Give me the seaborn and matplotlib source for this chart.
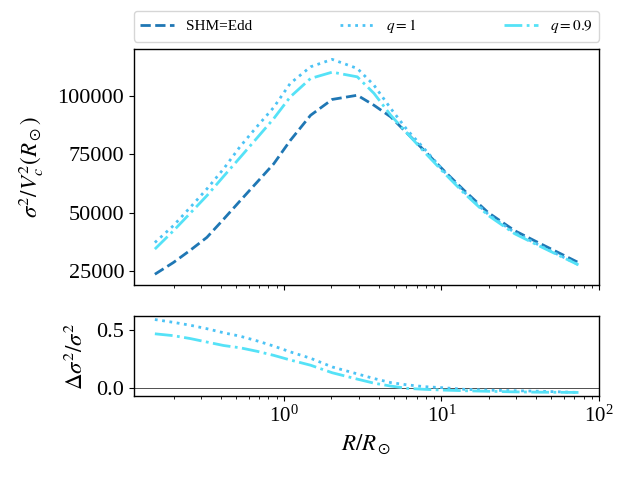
import numpy as np
import pandas as pd
import matplotlib
matplotlib.use("Agg")
import matplotlib.pyplot as plt
import seaborn as sns

# radii (in units of R_sun)
R = [0.152, 0.199, 0.255, 0.325, 0.415, 0.530, 0.677, 0.864, 1.10, 1.48, 2.03,
     2.93, 3.74, 4.78, 6.11, 7.79, 10.45, 14.0, 19.8, 29.2, 43.2, 74.3]

# sigma^2 / Vc^2 for each model
sig_shm = [23600, 28600, 33900, 39400, 47200, 55200, 63100, 71000, 81000, 91800, 98600,
           100400, 96100, 91100, 83900, 76700, 67900, 59500, 50100, 42300, 36500, 28600]
sig_q1 = [37200, 44400, 52300, 60200, 68800, 78500, 87000, 95200, 105500, 112600, 115800,
          111900, 104700, 94700, 85300, 77500, 67600, 58800, 49400, 41500, 35600, 27700]
sig_q09 = [34400, 42200, 49800, 57300, 65600, 73800, 82100, 90400, 99700, 107600, 110300,
           108300, 101200, 91800, 83900, 76100, 67000, 58300, 48900, 41000, 35300, 27600]

# relative difference to SHM
d_q1 = [0.594, 0.570, 0.545, 0.515, 0.480, 0.450, 0.410, 0.365, 0.315, 0.260, 0.185,
        0.125, 0.085, 0.050, 0.030, 0.015, 0.005, -0.008, -0.015, -0.020, -0.025, -0.035]
d_q09 = [0.471, 0.455, 0.430, 0.400, 0.370, 0.350, 0.320, 0.285, 0.245, 0.200, 0.135,
         0.080, 0.045, 0.020, 0.000, -0.008, -0.015, -0.020, -0.025, -0.030, -0.033, -0.035]

labels = ["SHM=Edd", r"$q=1$", r"$q=0.9$"]
colors = ["#1f77b4", "#4cc3f5", "#55e2f7"]
styles = ["--", ":", "-."]

sns.set_style("ticks")
plt.rcParams["font.family"] = ["Liberation Serif", "DejaVu Serif"]
plt.rcParams["mathtext.fontset"] = "stix"
plt.rcParams.update({
    "axes.linewidth": 1.0, "axes.edgecolor": "black", "axes.labelcolor": "black",
    "text.color": "black", "xtick.color": "black", "ytick.color": "black",
    "xtick.major.size": 3.5, "ytick.major.size": 3.5,
    "xtick.minor.size": 2, "ytick.minor.size": 2,
    "xtick.major.width": 0.8, "ytick.major.width": 0.8, "xtick.minor.width": 0.6,
})

fig = plt.figure(figsize=(6.29, 4.86), dpi=100)
ax1 = fig.add_axes([0.213, 0.4136, 0.739, 0.4864])
ax2 = fig.add_axes([0.213, 0.185, 0.739, 0.165], sharex=ax1)

df = pd.DataFrame({"R": R, "shm": sig_shm, "q1": sig_q1, "q09": sig_q09})
for col, lab, c, ls in zip(["shm", "q1", "q09"], labels, colors, styles):
    sns.lineplot(data=df, x="R", y=col, ax=ax1, color=c, linestyle=ls, lw=2, label=lab)

dd = pd.DataFrame({"R": R, "q1": d_q1, "q09": d_q09})
ax2.axhline(0, color="#333333", lw=0.6)
for col, c, ls in zip(["q1", "q09"], colors[1:], styles[1:]):
    sns.lineplot(data=dd, x="R", y=col, ax=ax2, color=c, linestyle=ls, lw=2)

ax1.set_xscale("log")
ax1.set_xlim(0.112, 100)
ax1.set_yticks([25000, 50000, 75000, 100000])
ax2.set_yticks([0.0, 0.5])
ax1.tick_params(labelbottom=False, labelsize=16)
ax2.tick_params(axis="y", labelsize=16)
ax2.tick_params(axis="x", labelsize=15)
ax1.set_xlabel("")
ax1.set_ylabel(r"$\sigma^2/V_c^2(R_\odot)$", fontsize=16.5, labelpad=8)
ax2.set_ylabel(r"$\Delta\sigma^2/\sigma^2$", fontsize=16.5, labelpad=6)
ax2.set_xlabel(r"$R/R_\odot$", fontsize=16.5)
for a in (ax1, ax2):
    for s in a.spines.values():
        s.set_visible(True)

ax1.legend(bbox_to_anchor=(0, 1.03, 1, 0.1), loc="lower left", mode="expand",
           ncol=3, borderaxespad=0, fontsize=11, handlelength=2.2)

fig.savefig("out.png", dpi=100)
